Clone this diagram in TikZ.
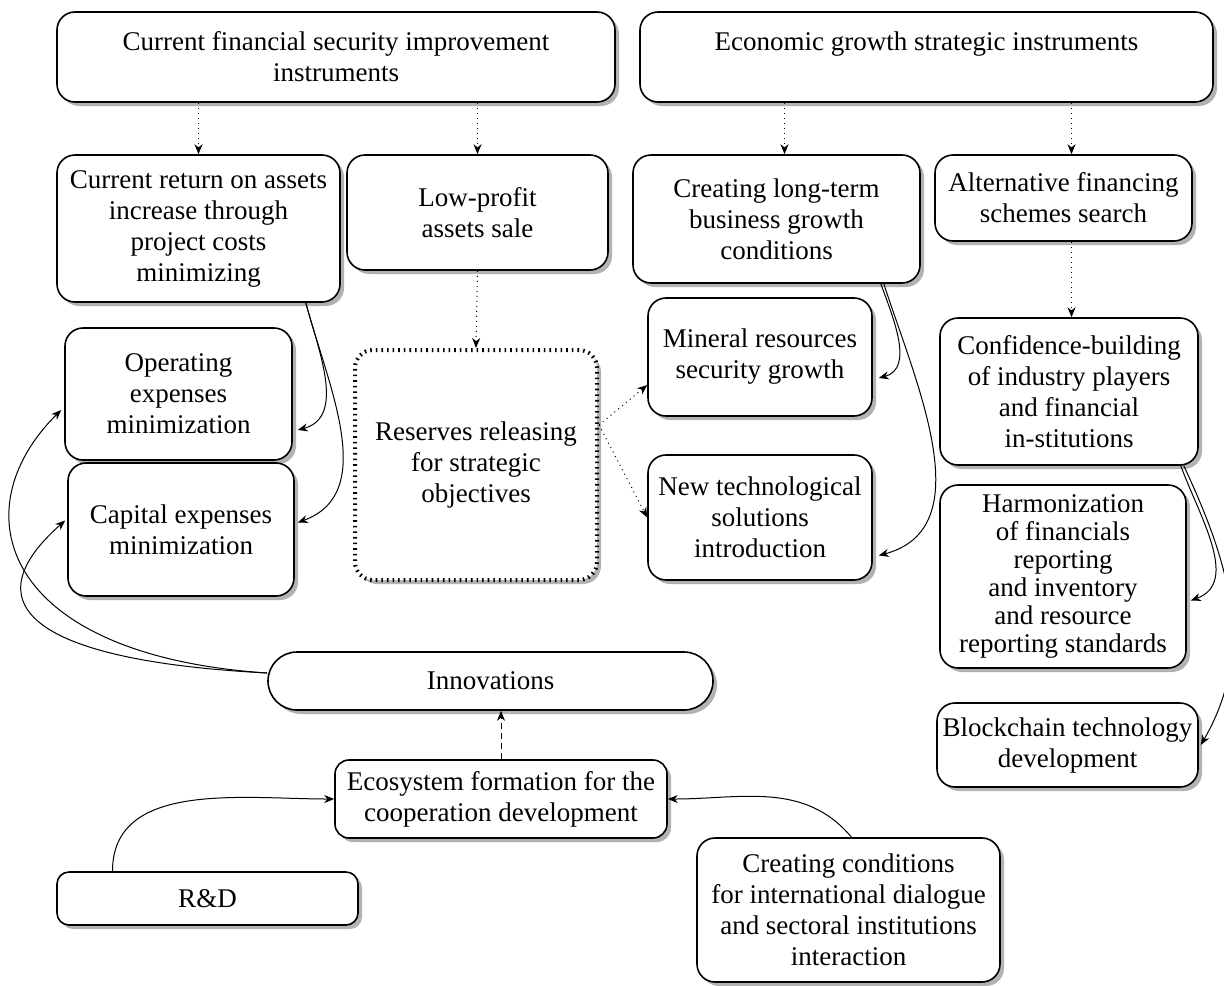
\documentclass[tikz,border=0pt]{standalone}
\usepackage{fontspec}
\setmainfont{Liberation Serif}
\usetikzlibrary{arrows.meta,shadows,calc}
\tikzset{
  caja/.style={draw,rounded corners=9pt,fill=white,align=center,line width=0.8pt,inner sep=2pt,
    font=\fontsize{13.5}{15.5}\selectfont,
    drop shadow={shadow xshift=2pt,shadow yshift=-2pt,fill=black!60}},
  reserva/.style={caja,dotted,line width=2pt},
  flecha/.style={-{Stealth[length=5pt,width=4pt]},line width=0.5pt},
  punteada/.style={flecha,dotted},
}
\begin{document}
\begin{tikzpicture}[x=0.5pt,y=0.5pt]
  \useasboundingbox (0,0) rectangle (1224,-985);
  %Cajas superiores
  \node[caja,minimum width=279pt,minimum height=45pt] (fin) at (336,-57) {Current financial security improvement\\instruments};
  \node[caja,minimum width=286.5pt,minimum height=45pt] (grow) at (926.5,-57) {Economic growth strategic instruments\\\mbox{}};
  %Segundo nivel
  \node[caja,minimum width=141.5pt,minimum height=73.5pt] (ret) at (198.5,-228.5) {Current return on assets\\increase through\\project costs\\minimizing};
  \node[caja,minimum width=130.5pt,minimum height=57.5pt] (low) at (477.5,-212.5) {Low-profit\\assets sale};
  \node[caja,minimum width=143.5pt,minimum height=64pt] (long) at (776.5,-219) {Creating long-term\\business growth\\conditions};
  \node[caja,minimum width=128.5pt,minimum height=43pt] (alt) at (1063.5,-198) {Alternative financing\\schemes search};
  %Tercer nivel
  \node[caja,minimum width=113.5pt,minimum height=66pt] (opx) at (178.5,-394) {Operating\\expenses\\minimization};
  \node[caja,minimum width=113pt,minimum height=66.5pt] (cpx) at (181,-529.5) {Capital expenses\\minimization};
  \node[reserva,minimum width=121pt,minimum height=115pt] (res) at (476,-465) {Reserves releasing\\for strategic\\objectives};
  \node[caja,minimum width=112pt,minimum height=59pt] (min) at (760,-357) {Mineral resources\\security growth};
  \node[caja,minimum width=112pt,minimum height=62.5pt] (tec) at (760,-517.5) {New technological\\solutions\\introduction};
  \node[caja,minimum width=129pt,minimum height=73.5pt] (conf) at (1069,-391.5) {Confidence-building\\of industry players\\and financial\\in-stitutions};
  \node[caja,font=\fontsize{13.5}{14}\selectfont,minimum width=123pt,minimum height=91.5pt] (harm) at (1063,-576.5) {Harmonization\\of financials\\reporting\\and inventory\\and resource\\reporting standards};
  \node[caja,minimum width=130.5pt,minimum height=42pt] (block) at (1067.5,-745) {Blockchain technology\\development};
  %Parte inferior
  \node[caja,rounded corners=14.5pt,minimum width=222.5pt,minimum height=29pt] (inn) at (490.5,-681) {Innovations};
  \node[caja,rounded corners=7pt,minimum width=166pt,minimum height=39pt] (ecos) at (501,-799) {Ecosystem formation for the\\cooperation development};
  \node[caja,rounded corners=6pt,minimum width=150.5pt,minimum height=26.5pt] (rd) at (207.5,-898.5) {R\&D};
  \node[caja,minimum width=151.5pt,minimum height=72pt] (dial) at (848.5,-910) {Creating conditions\\for international dialogue\\and sectoral institutions\\interaction};
  %Flechas punteadas
  \draw[punteada] (ret.north |- fin.south) -- (ret.north);
  \draw[punteada] (low.north |- fin.south) -- (low.north);
  \draw[punteada] ($(long.north |- grow.south)+(8,0)$) -- ($(long.north)+(8,0)$);
  \draw[punteada] ($(alt.north |- grow.south)+(8,0)$) -- ($(alt.north)+(8,0)$);
  \draw[punteada] (low.south) -- (res.north);
  \draw[punteada] ($(alt.south)+(8,0)$) -- ($(alt.south |- conf.north)+(8,0)$);
  \draw[punteada] ($(res.east)+(0,40)$) -- ($(min.west)+(0,-28)$);
  \draw[punteada] ($(res.east)+(0,40)$) -- (tec.west);
  \draw[flecha,densely dashed] (ecos.north) -- (ecos.north |- inn.south);
  %Flechas curvas
  \draw[flecha] ($(ret.south east)+(-35,0)$) to[out=-75,in=15] ($(opx.east)+(5,-36)$);
  \draw[flecha] ($(ret.south east)+(-35,0)$) to[out=-75,in=20] ($(cpx.east)+(3,7)$);
  \draw[flecha] ($(long.south east)+(-40,0)$) to[out=-70,in=15] ($(min.east)+(6,-21)$);
  \draw[flecha] ($(long.south east)+(-37,0)$) to[out=-72,in=15] ($(tec.east)+(6,-38)$);
  \draw[flecha] ($(conf.south east)+(-18,0)$) to[out=-70,in=20] ($(harm.east)+(4,-24)$);
  \draw[flecha] ($(conf.south east)+(-15,0)$) to[out=-65,in=60] ($(block.east)+(2,0)$);
  \draw[flecha] ($(inn.west)+(0,8)$) .. controls (0,-655) and (-40,-510) .. ($(opx.west)+(-3,-16)$);
  \draw[flecha] ($(inn.west)+(0,8)$) .. controls (20,-660) and (-25,-600) .. ($(cpx.west)+(-2,9)$);
  \draw[flecha] ($(rd.north)+(-95,0)$) to[out=90,in=180] (ecos.west);
  \draw[flecha] ($(dial.north)+(3,0)$) to[out=130,in=0] (ecos.east);
\end{tikzpicture}
\end{document}
